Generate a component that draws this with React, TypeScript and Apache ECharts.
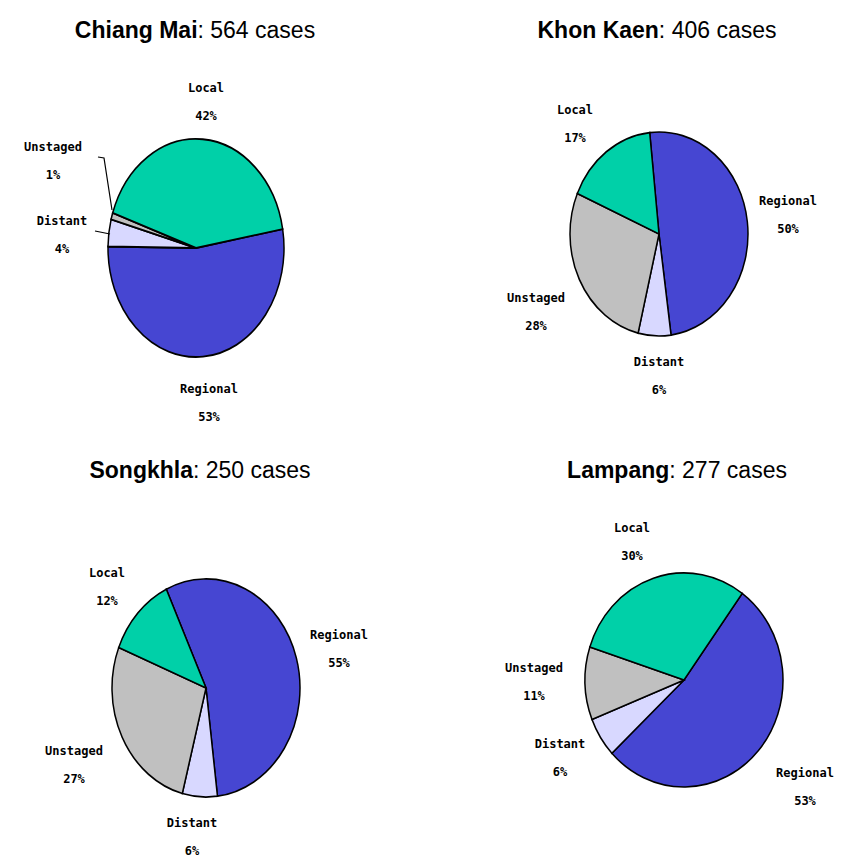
import React, { useEffect, useRef } from "react";
import * as echarts from "echarts";

const stages = ["Regional", "Distant", "Unstaged", "Local"];
const stageColors = ["#4646D2", "#D8D8FF", "#C0C0C0", "#00D0A8"];

const chiangMaiValues = [53, 4, 1, 42];
const khonKaenValues = [50, 6, 28, 17];
const songkhlaValues = [55, 6, 27, 12];
const lampangValues = [53, 6, 11, 30];

const regionNames = ["Chiang Mai", "Khon Kaen", "Songkhla", "Lampang"];
const regionCases = [564, 406, 250, 277];

// layout (positions/sizes only)
const pieLayouts = [
  { cx: 196, cy: 248, rx: 88, ry: 109, start: 10, titleX: 195, titleY: 30,
    labels: [[13, 155], [-134, -13], [-143, -87], [10, -146]],
    leaders: [[], [[-101, -17], [-86, -14]], [[-98, -91], [-92, -90], [-84, -38]], []] },
  { cx: 659, cy: 234, rx: 89, ry: 102, start: 96, titleX: 657, titleY: 30,
    labels: [[129, -19], [0, 142], [-123, 78], [-84, -110]], leaders: [[], [], [], []] },
  { cx: 206, cy: 688, rx: 94, ry: 109, start: 115, titleX: 200, titleY: 470,
    labels: [[133, -39], [-14, 149], [-132, 77], [-99, -101]], leaders: [[], [], [], []] },
  { cx: 684, cy: 680, rx: 99, ry: 107, start: 54, titleX: 677, titleY: 470,
    labels: [[121, 107], [-124, 78], [-150, 2], [-52, -138]], leaders: [[], [], [], []] },
];

const allValues = [chiangMaiValues, khonKaenValues, songkhlaValues, lampangValues];

export default function App() {
  const ref = useRef<HTMLDivElement>(null);
  useEffect(() => {
    document.body.style.margin = "0";
    if (!ref.current) return;
    const chart = echarts.init(ref.current, null, { renderer: "svg" });

    const series = allValues.map((vals, p) => {
      const L = pieLayouts[p];
      const total = vals.reduce((a, b) => a + b, 0);
      return {
        type: "custom",
        coordinateSystem: "none",
        data: vals,
        renderItem: (params: any, api: any) => {
          const i = params.dataIndex;
          const v = api.value(0);
          const before = vals.slice(0, i).reduce((a, b) => a + b, 0);
          const a1 = L.start - (before / total) * 360;
          const a2 = a1 - (v / total) * 360;
          const children: any[] = [
            {
              type: "sector",
              x: L.cx,
              y: L.cy,
              scaleY: L.ry / L.rx,
              shape: {
                cx: 0, cy: 0, r: L.rx, r0: 0,
                startAngle: (-a1 * Math.PI) / 180,
                endAngle: (-a2 * Math.PI) / 180,
                clockwise: true,
              },
              style: { fill: stageColors[i], stroke: "#000", lineWidth: 1.5, strokeNoScale: true },
            },
            {
              type: "text",
              x: L.cx + L.labels[i][0],
              y: L.cy + L.labels[i][1],
              style: {
                text: `${stages[i]}\n${v}%`,
                align: "center",
                verticalAlign: "middle",
                font: "bold 12px 'DejaVu Sans Mono'",
                lineHeight: 28,
                fill: "#000",
              },
            },
          ];
          const ld = L.leaders[i];
          if (ld.length) {
            children.push({
              type: "polyline",
              shape: { points: ld.map((pt: number[]) => [L.cx + pt[0], L.cy + pt[1]]) },
              style: { stroke: "#000", lineWidth: 1.2, fill: "none" },
            });
          }
          return { type: "group", children };
        },
      };
    });

    const graphic = regionNames.map((name, p) => ({
      type: "text",
      x: pieLayouts[p].titleX,
      y: pieLayouts[p].titleY,
      style: {
        text: `{b|${name}}{n|: ${regionCases[p]} cases}`,
        align: "center",
        verticalAlign: "middle",
        rich: {
          b: { fontFamily: "Liberation Sans", fontWeight: "bold", fontSize: 23, fill: "#000" },
          n: { fontFamily: "Liberation Sans", fontSize: 23, fill: "#000" },
        },
      },
    }));

    chart.setOption({
      animation: false,
      backgroundColor: "#ffffff",
      series,
      graphic,
    } as any);
    return () => chart.dispose();
  }, []);
  return <div ref={ref} style={{ width: 844, height: 857 }} />;
}
